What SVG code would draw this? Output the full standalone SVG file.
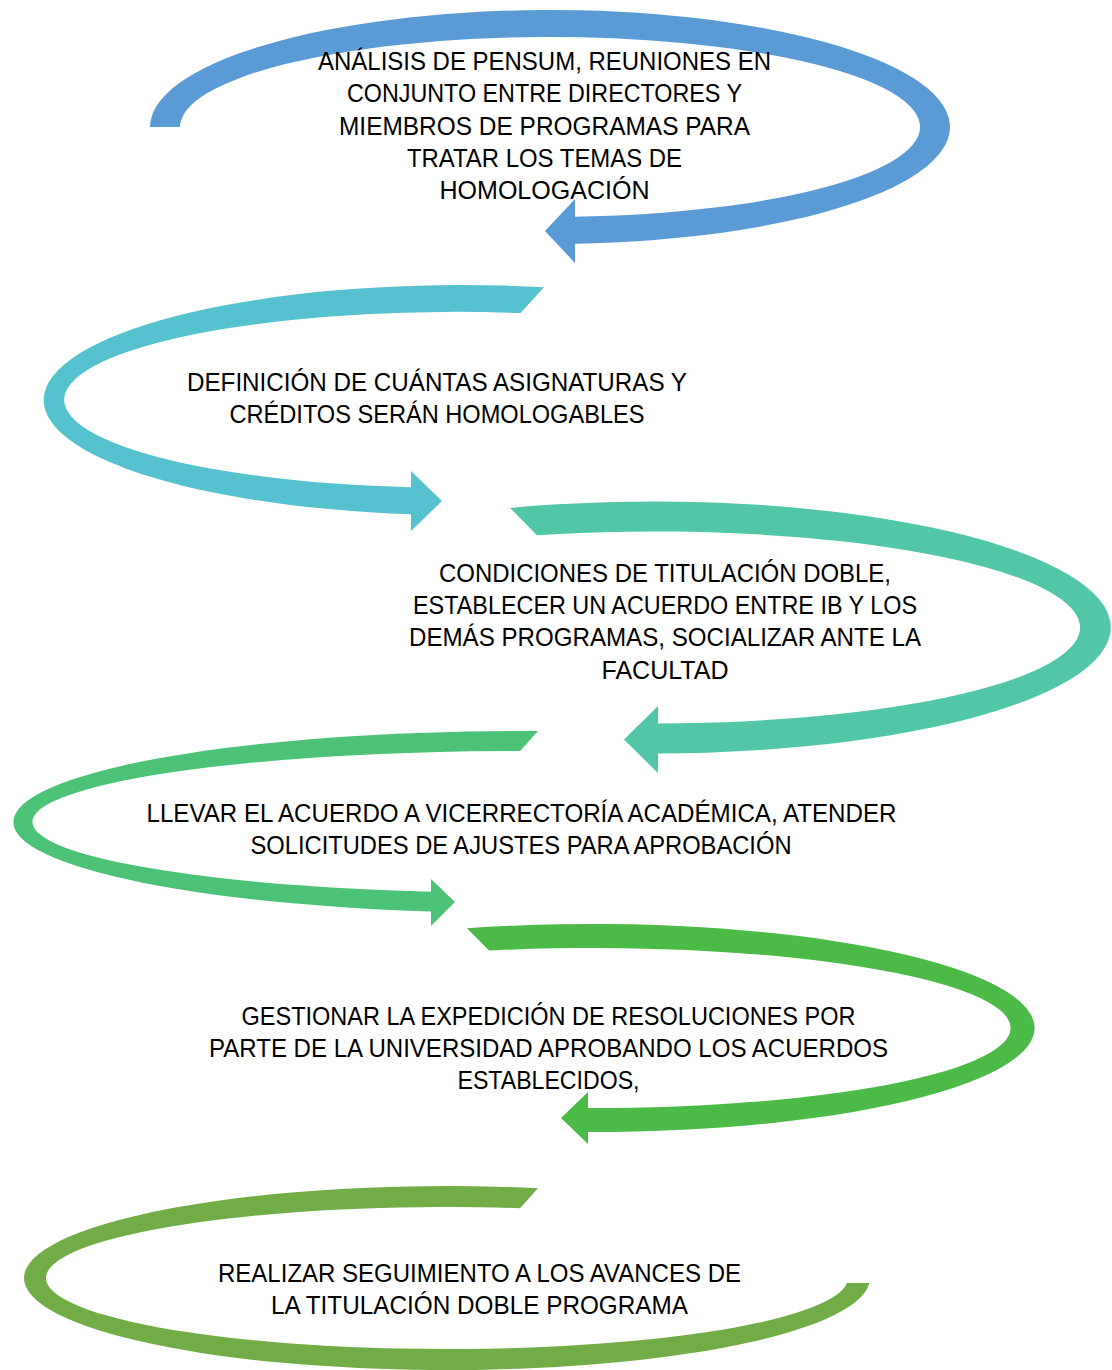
<svg xmlns="http://www.w3.org/2000/svg" width="1112" height="1370" viewBox="0 0 1112 1370">
<style>
.lbl{font-family:"Liberation Sans",Arial,sans-serif;font-size:26px;fill:#000;text-anchor:middle}
.c1{fill:#5B9BD5}.c2{fill:#56C1CF}.c3{fill:#51C7A8}.c4{fill:#4CC276}.c5{fill:#4BBA47}.c6{fill:#70AD47}
</style>
<rect width="1112" height="1370" fill="#fff"/>
<g id="node1">
<path class="c1" d="M150,127 A400,117 0 1 1 575,243.8 L575,263 L545,231 L575,199 L575,216.8 A370,90 0 1 0 180,127 Z"/>
<text class="lbl" x="544.5" y="70" textLength="453" lengthAdjust="spacingAndGlyphs">ANÁLISIS DE PENSUM, REUNIONES EN</text>
<text class="lbl" x="544.5" y="102" textLength="395" lengthAdjust="spacingAndGlyphs">CONJUNTO ENTRE DIRECTORES Y</text>
<text class="lbl" x="544.5" y="134.5" textLength="411" lengthAdjust="spacingAndGlyphs">MIEMBROS DE PROGRAMAS PARA</text>
<text class="lbl" x="544.5" y="166.5" textLength="275" lengthAdjust="spacingAndGlyphs">TRATAR LOS TEMAS DE</text>
<text class="lbl" x="544.5" y="198.5" textLength="210" lengthAdjust="spacingAndGlyphs">HOMOLOGACIÓN</text>
</g>
<g id="node2">
<path class="c2" d="M544,287.3 A418,115 0 1 0 411,514.2 L411,531 L442,501 L411,471 L411,487.3 A391,88 0 1 1 520.5,313.1 Z"/>
<text class="lbl" x="437" y="391" textLength="500" lengthAdjust="spacingAndGlyphs">DEFINICIÓN DE CUÁNTAS ASIGNATURAS Y</text>
<text class="lbl" x="437" y="423" textLength="415" lengthAdjust="spacingAndGlyphs">CRÉDITOS SERÁN HOMOLOGABLES</text>
</g>
<g id="node3">
<path class="c3" d="M510,507.9 A457,126 0 1 1 658,753.5 L658,773 L624,739.5 L658,706 L658,723.5 A426,96 0 1 0 537,535.2 Z"/>
<text class="lbl" x="665" y="581.5" textLength="452" lengthAdjust="spacingAndGlyphs">CONDICIONES DE TITULACIÓN DOBLE,</text>
<text class="lbl" x="665" y="614" textLength="504" lengthAdjust="spacingAndGlyphs">ESTABLECER UN ACUERDO ENTRE IB Y LOS</text>
<text class="lbl" x="665" y="646" textLength="512" lengthAdjust="spacingAndGlyphs">DEMÁS PROGRAMAS, SOCIALIZAR ANTE LA</text>
<text class="lbl" x="665" y="678.5" textLength="127" lengthAdjust="spacingAndGlyphs">FACULTAD</text>
</g>
<g id="node4">
<path class="c4" d="M538,731.1 A508,91 0 0 0 431,911.6 L431,926 L455,902 L431,879 L431,891.8 A488,71 0 0 1 520,751 Z"/>
<text class="lbl" x="521.5" y="822" textLength="750" lengthAdjust="spacingAndGlyphs">LLEVAR EL ACUERDO A VICERRECTORÍA ACADÉMICA, ATENDER</text>
<text class="lbl" x="521" y="854" textLength="541" lengthAdjust="spacingAndGlyphs">SOLICITUDES DE AJUSTES PARA APROBACIÓN</text>
</g>
<g id="node5">
<path class="c5" d="M467,928.2 A443,104 0 1 1 588,1132 L588,1144 L561,1118 L588,1092 L588,1108 A418,80 0 1 0 489,950.5 Z"/>
<text class="lbl" x="548.5" y="1024.5" textLength="614" lengthAdjust="spacingAndGlyphs">GESTIONAR LA EXPEDICIÓN DE RESOLUCIONES POR</text>
<text class="lbl" x="548.5" y="1057" textLength="679" lengthAdjust="spacingAndGlyphs">PARTE DE LA UNIVERSIDAD APROBANDO LOS ACUERDOS</text>
<text class="lbl" x="548.5" y="1089" textLength="182" lengthAdjust="spacingAndGlyphs">ESTABLECIDOS,</text>
</g>
<g id="node6">
<path class="c6" d="M538,1188.2 A423,92 0 1 0 869.4,1283 L847,1283 A401,71 0 1 1 520,1208.2 Z"/>
<text class="lbl" x="479.5" y="1281.5" textLength="523" lengthAdjust="spacingAndGlyphs">REALIZAR SEGUIMIENTO A LOS AVANCES DE</text>
<text class="lbl" x="479.5" y="1313.5" textLength="417" lengthAdjust="spacingAndGlyphs">LA TITULACIÓN DOBLE PROGRAMA</text>
</g>
</svg>
